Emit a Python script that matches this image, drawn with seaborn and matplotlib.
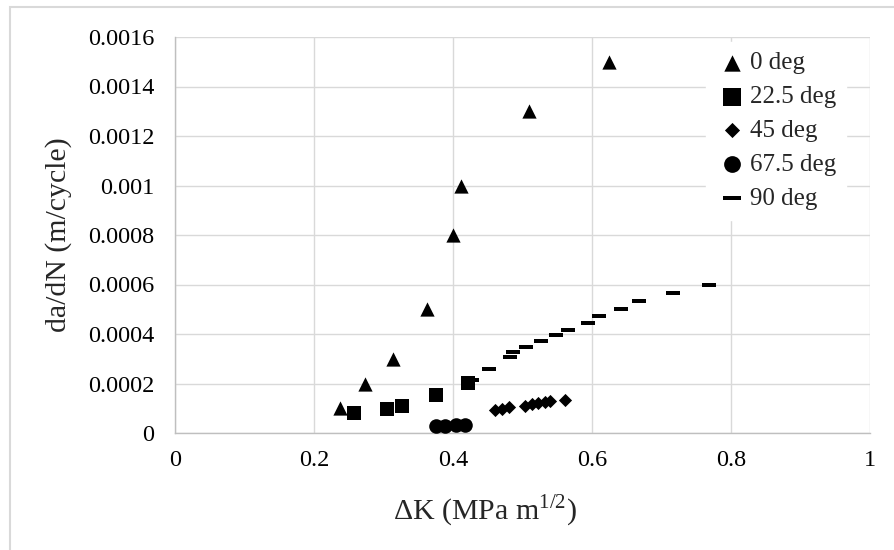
import numpy as np
import pandas as pd
import matplotlib.pyplot as plt
import matplotlib.patches as mpatches
import seaborn as sns

# Data
dk_0 = [0.237, 0.274, 0.314, 0.363, 0.400, 0.411, 0.510, 0.624]
dadn_0 = [0.0001, 0.0002, 0.0003, 0.0005, 0.0008, 0.001, 0.0013, 0.0015]

dk_225 = [0.258, 0.305, 0.326, 0.376, 0.421]
dadn_225 = [0.000082, 0.000096, 0.00011, 0.000153, 0.000203]

dk_45 = [0.460, 0.470, 0.481, 0.504, 0.513, 0.523, 0.532, 0.540, 0.561]
dadn_45 = [0.000092, 0.000098, 0.000105, 0.000111, 0.000117, 0.000121, 0.000125, 0.000128, 0.000133]

dk_675 = [0.376, 0.388, 0.405, 0.417]
dadn_675 = [0.00003, 0.00003, 0.000032, 0.000032]

dk_90 = [0.428, 0.452, 0.482, 0.486, 0.505, 0.527, 0.548, 0.566, 0.594,
         0.610, 0.642, 0.668, 0.716, 0.769]
dadn_90 = [0.000214, 0.000258, 0.000308, 0.000327, 0.000349, 0.000372, 0.000394,
           0.000418, 0.000445, 0.000472, 0.000502, 0.000533, 0.000565, 0.0006]

x_ticks = [0, 0.2, 0.4, 0.6, 0.8, 1.0]
y_ticks = [0, 0.0002, 0.0004, 0.0006, 0.0008, 0.001, 0.0012, 0.0014, 0.0016]

#%%

sns.set_style('white')
plt.rcParams['font.family'] = ['Liberation Serif', 'DejaVu Serif']
plt.rcParams['mathtext.fontset'] = 'custom'
plt.rcParams['mathtext.rm'] = 'Liberation Serif'

fig = plt.figure(figsize=(8.95, 5.5), dpi=100)
ax = fig.add_axes([175 / 895, 1 - 433 / 550, 695 / 895, 396 / 550])

# Chart area border (only top and left visible in the crop)
fig.patches.append(mpatches.Rectangle((10 / 895, -0.1), 1.2, 1 - 7 / 550 + 0.1,
                                      transform=fig.transFigure, fill=False,
                                      edgecolor='#d9d9d9', linewidth=1.5))

# Dash marker for 90 deg
dash = [(-1, -0.27), (1, -0.27), (1, 0.27), (-1, 0.27), (-1, -0.27)]

df_90 = pd.DataFrame({'dk': dk_90, 'dadn': dadn_90})
sns.scatterplot(data=df_90, x='dk', y='dadn', marker=dash, s=115, color='black',
                linewidth=0, ax=ax, label='90 deg', zorder=3)

series = [
    (dk_0, dadn_0, '^', 105, '0 deg'),
    (dk_225, dadn_225, 's', 115, '22.5 deg'),
    (dk_45, dadn_45, 'D', 45, '45 deg'),
    (dk_675, dadn_675, 'o', 110, '67.5 deg'),
]
for xs, ys, mk, size, lab in series:
    df = pd.DataFrame({'dk': xs, 'dadn': ys})
    sns.scatterplot(data=df, x='dk', y='dadn', marker=mk, s=size, color='black',
                    linewidth=0, ax=ax, label=lab, zorder=4)

# Axes limits, ticks and grid
ax.set_xlim(0, 1)
ax.set_ylim(0, 0.0016)
ax.set_xticks(x_ticks)
ax.set_yticks(y_ticks)
ax.set_xticklabels([f'{v:g}' for v in x_ticks])
ax.set_yticklabels([f'{v:g}' for v in y_ticks])
ax.tick_params(axis='both', length=0, labelsize=17.5, colors='black')
ax.tick_params(axis='x', pad=12)
ax.tick_params(axis='y', pad=15)
ax.grid(True, color='#d9d9d9', linewidth=1.0, zorder=0)
ax.set_axisbelow(True)

for side in ['top', 'right']:
    ax.spines[side].set_visible(False)
for side in ['left', 'bottom']:
    ax.spines[side].set_color('#bfbfbf')
    ax.spines[side].set_linewidth(1.0)

ax.set_xlabel(r'$\Delta$K (MPa m$^{\mathrm{1/2}}$)', fontsize=21.5)
ax.set_ylabel('da/dN (m/cycle)', fontsize=21.5)
ax.xaxis.set_label_coords(0.446, -0.15)
ax.yaxis.set_label_coords(-0.148, 0.5)

# Legend, in the Excel order
handles, labels = ax.get_legend_handles_labels()
order = ['0 deg', '22.5 deg', '45 deg', '67.5 deg', '90 deg']
hmap = dict(zip(labels, handles))
leg = ax.legend([hmap[k] for k in order], order, loc='upper left',
                bbox_to_anchor=((706 - 175) / 695, (433 - 42) / 396),
                fontsize=18, frameon=True, fancybox=False, framealpha=1,
                edgecolor='white', handlelength=1.3, handletextpad=0.05,
                labelspacing=0.45, borderpad=0.4, borderaxespad=0,
                markerscale=1.15)

fig.savefig('out.png', dpi=100)
